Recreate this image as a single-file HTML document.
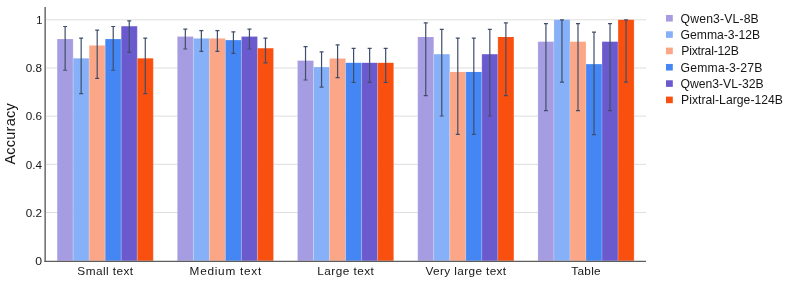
<!DOCTYPE html>
<html><head><meta charset="utf-8"><title>Accuracy chart</title>
<style>html,body{margin:0;padding:0;background:#fff;}body{width:793px;height:283px;overflow:hidden;font-family:"Liberation Sans",sans-serif;}</style>
</head><body>
<svg width="793" height="283" viewBox="0 0 793 283" style="display:block;will-change:transform;opacity:0.999">
<rect width="793" height="283" fill="#fff"/>
<line x1="46" x2="646" y1="212.52" y2="212.52" stroke="#dedede" stroke-width="1"/>
<line x1="46" x2="646" y1="164.34" y2="164.34" stroke="#dedede" stroke-width="1"/>
<line x1="46" x2="646" y1="116.16" y2="116.16" stroke="#dedede" stroke-width="1"/>
<line x1="46" x2="646" y1="67.98" y2="67.98" stroke="#dedede" stroke-width="1"/>
<line x1="46" x2="646" y1="19.80" y2="19.80" stroke="#dedede" stroke-width="1"/>
<rect x="57.12" y="39.07" width="16.03" height="221.68" fill="#A69CE1"/>
<line x1="57.12" x2="57.12" y1="39.07" y2="260.75" stroke="#fff" stroke-opacity="0.55" stroke-width="0.35"/>
<line x1="73.15" x2="73.15" y1="39.07" y2="260.75" stroke="#fff" stroke-opacity="0.55" stroke-width="0.35"/>
<rect x="73.15" y="58.34" width="16.03" height="202.41" fill="#86B0F8"/>
<line x1="73.15" x2="73.15" y1="58.34" y2="260.75" stroke="#fff" stroke-opacity="0.55" stroke-width="0.35"/>
<line x1="89.17" x2="89.17" y1="58.34" y2="260.75" stroke="#fff" stroke-opacity="0.55" stroke-width="0.35"/>
<rect x="89.17" y="45.50" width="16.03" height="215.25" fill="#FBA686"/>
<line x1="89.17" x2="89.17" y1="45.50" y2="260.75" stroke="#fff" stroke-opacity="0.55" stroke-width="0.35"/>
<line x1="105.20" x2="105.20" y1="45.50" y2="260.75" stroke="#fff" stroke-opacity="0.55" stroke-width="0.35"/>
<rect x="105.20" y="39.07" width="16.03" height="221.68" fill="#4487F4"/>
<line x1="105.20" x2="105.20" y1="39.07" y2="260.75" stroke="#fff" stroke-opacity="0.55" stroke-width="0.35"/>
<line x1="121.23" x2="121.23" y1="39.07" y2="260.75" stroke="#fff" stroke-opacity="0.55" stroke-width="0.35"/>
<rect x="121.23" y="26.23" width="16.03" height="234.52" fill="#6A5ACD"/>
<line x1="121.23" x2="121.23" y1="26.23" y2="260.75" stroke="#fff" stroke-opacity="0.55" stroke-width="0.35"/>
<line x1="137.25" x2="137.25" y1="26.23" y2="260.75" stroke="#fff" stroke-opacity="0.55" stroke-width="0.35"/>
<rect x="137.25" y="58.34" width="16.03" height="202.41" fill="#F9500F"/>
<line x1="137.25" x2="137.25" y1="58.34" y2="260.75" stroke="#fff" stroke-opacity="0.55" stroke-width="0.35"/>
<line x1="153.28" x2="153.28" y1="58.34" y2="260.75" stroke="#fff" stroke-opacity="0.55" stroke-width="0.35"/>
<rect x="177.32" y="36.59" width="16.03" height="224.16" fill="#A69CE1"/>
<line x1="177.32" x2="177.32" y1="36.59" y2="260.75" stroke="#fff" stroke-opacity="0.55" stroke-width="0.35"/>
<line x1="193.35" x2="193.35" y1="36.59" y2="260.75" stroke="#fff" stroke-opacity="0.55" stroke-width="0.35"/>
<rect x="193.35" y="38.47" width="16.03" height="222.28" fill="#86B0F8"/>
<line x1="193.35" x2="193.35" y1="38.47" y2="260.75" stroke="#fff" stroke-opacity="0.55" stroke-width="0.35"/>
<line x1="209.37" x2="209.37" y1="38.47" y2="260.75" stroke="#fff" stroke-opacity="0.55" stroke-width="0.35"/>
<rect x="209.37" y="38.47" width="16.03" height="222.28" fill="#FBA686"/>
<line x1="209.37" x2="209.37" y1="38.47" y2="260.75" stroke="#fff" stroke-opacity="0.55" stroke-width="0.35"/>
<line x1="225.40" x2="225.40" y1="38.47" y2="260.75" stroke="#fff" stroke-opacity="0.55" stroke-width="0.35"/>
<rect x="225.40" y="40.13" width="16.03" height="220.62" fill="#4487F4"/>
<line x1="225.40" x2="225.40" y1="40.13" y2="260.75" stroke="#fff" stroke-opacity="0.55" stroke-width="0.35"/>
<line x1="241.43" x2="241.43" y1="40.13" y2="260.75" stroke="#fff" stroke-opacity="0.55" stroke-width="0.35"/>
<rect x="241.43" y="36.59" width="16.03" height="224.16" fill="#6A5ACD"/>
<line x1="241.43" x2="241.43" y1="36.59" y2="260.75" stroke="#fff" stroke-opacity="0.55" stroke-width="0.35"/>
<line x1="257.46" x2="257.46" y1="36.59" y2="260.75" stroke="#fff" stroke-opacity="0.55" stroke-width="0.35"/>
<rect x="257.46" y="48.25" width="16.03" height="212.50" fill="#F9500F"/>
<line x1="257.46" x2="257.46" y1="48.25" y2="260.75" stroke="#fff" stroke-opacity="0.55" stroke-width="0.35"/>
<line x1="273.48" x2="273.48" y1="48.25" y2="260.75" stroke="#fff" stroke-opacity="0.55" stroke-width="0.35"/>
<rect x="297.52" y="60.67" width="16.03" height="200.08" fill="#A69CE1"/>
<line x1="297.52" x2="297.52" y1="60.67" y2="260.75" stroke="#fff" stroke-opacity="0.55" stroke-width="0.35"/>
<line x1="313.55" x2="313.55" y1="60.67" y2="260.75" stroke="#fff" stroke-opacity="0.55" stroke-width="0.35"/>
<rect x="313.55" y="67.12" width="16.03" height="193.63" fill="#86B0F8"/>
<line x1="313.55" x2="313.55" y1="67.12" y2="260.75" stroke="#fff" stroke-opacity="0.55" stroke-width="0.35"/>
<line x1="329.57" x2="329.57" y1="67.12" y2="260.75" stroke="#fff" stroke-opacity="0.55" stroke-width="0.35"/>
<rect x="329.57" y="58.52" width="16.03" height="202.23" fill="#FBA686"/>
<line x1="329.57" x2="329.57" y1="58.52" y2="260.75" stroke="#fff" stroke-opacity="0.55" stroke-width="0.35"/>
<line x1="345.60" x2="345.60" y1="58.52" y2="260.75" stroke="#fff" stroke-opacity="0.55" stroke-width="0.35"/>
<rect x="345.60" y="62.82" width="16.03" height="197.93" fill="#4487F4"/>
<line x1="345.60" x2="345.60" y1="62.82" y2="260.75" stroke="#fff" stroke-opacity="0.55" stroke-width="0.35"/>
<line x1="361.63" x2="361.63" y1="62.82" y2="260.75" stroke="#fff" stroke-opacity="0.55" stroke-width="0.35"/>
<rect x="361.63" y="62.82" width="16.03" height="197.93" fill="#6A5ACD"/>
<line x1="361.63" x2="361.63" y1="62.82" y2="260.75" stroke="#fff" stroke-opacity="0.55" stroke-width="0.35"/>
<line x1="377.65" x2="377.65" y1="62.82" y2="260.75" stroke="#fff" stroke-opacity="0.55" stroke-width="0.35"/>
<rect x="377.65" y="62.82" width="16.03" height="197.93" fill="#F9500F"/>
<line x1="377.65" x2="377.65" y1="62.82" y2="260.75" stroke="#fff" stroke-opacity="0.55" stroke-width="0.35"/>
<line x1="393.68" x2="393.68" y1="62.82" y2="260.75" stroke="#fff" stroke-opacity="0.55" stroke-width="0.35"/>
<rect x="417.72" y="37.01" width="16.03" height="223.74" fill="#A69CE1"/>
<line x1="417.72" x2="417.72" y1="37.01" y2="260.75" stroke="#fff" stroke-opacity="0.55" stroke-width="0.35"/>
<line x1="433.75" x2="433.75" y1="37.01" y2="260.75" stroke="#fff" stroke-opacity="0.55" stroke-width="0.35"/>
<rect x="433.75" y="54.21" width="16.03" height="206.54" fill="#86B0F8"/>
<line x1="433.75" x2="433.75" y1="54.21" y2="260.75" stroke="#fff" stroke-opacity="0.55" stroke-width="0.35"/>
<line x1="449.77" x2="449.77" y1="54.21" y2="260.75" stroke="#fff" stroke-opacity="0.55" stroke-width="0.35"/>
<rect x="449.77" y="71.95" width="16.03" height="188.80" fill="#FBA686"/>
<line x1="449.77" x2="449.77" y1="71.95" y2="260.75" stroke="#fff" stroke-opacity="0.55" stroke-width="0.35"/>
<line x1="465.80" x2="465.80" y1="71.95" y2="260.75" stroke="#fff" stroke-opacity="0.55" stroke-width="0.35"/>
<rect x="465.80" y="71.95" width="16.03" height="188.80" fill="#4487F4"/>
<line x1="465.80" x2="465.80" y1="71.95" y2="260.75" stroke="#fff" stroke-opacity="0.55" stroke-width="0.35"/>
<line x1="481.83" x2="481.83" y1="71.95" y2="260.75" stroke="#fff" stroke-opacity="0.55" stroke-width="0.35"/>
<rect x="481.83" y="54.21" width="16.03" height="206.54" fill="#6A5ACD"/>
<line x1="481.83" x2="481.83" y1="54.21" y2="260.75" stroke="#fff" stroke-opacity="0.55" stroke-width="0.35"/>
<line x1="497.86" x2="497.86" y1="54.21" y2="260.75" stroke="#fff" stroke-opacity="0.55" stroke-width="0.35"/>
<rect x="497.86" y="37.01" width="16.03" height="223.74" fill="#F9500F"/>
<line x1="497.86" x2="497.86" y1="37.01" y2="260.75" stroke="#fff" stroke-opacity="0.55" stroke-width="0.35"/>
<line x1="513.88" x2="513.88" y1="37.01" y2="260.75" stroke="#fff" stroke-opacity="0.55" stroke-width="0.35"/>
<rect x="537.92" y="41.70" width="16.03" height="219.05" fill="#A69CE1"/>
<line x1="537.92" x2="537.92" y1="41.70" y2="260.75" stroke="#fff" stroke-opacity="0.55" stroke-width="0.35"/>
<line x1="553.95" x2="553.95" y1="41.70" y2="260.75" stroke="#fff" stroke-opacity="0.55" stroke-width="0.35"/>
<rect x="553.95" y="19.80" width="16.03" height="240.95" fill="#86B0F8"/>
<line x1="553.95" x2="553.95" y1="19.80" y2="260.75" stroke="#fff" stroke-opacity="0.55" stroke-width="0.35"/>
<line x1="569.97" x2="569.97" y1="19.80" y2="260.75" stroke="#fff" stroke-opacity="0.55" stroke-width="0.35"/>
<rect x="569.97" y="41.70" width="16.03" height="219.05" fill="#FBA686"/>
<line x1="569.97" x2="569.97" y1="41.70" y2="260.75" stroke="#fff" stroke-opacity="0.55" stroke-width="0.35"/>
<line x1="586.00" x2="586.00" y1="41.70" y2="260.75" stroke="#fff" stroke-opacity="0.55" stroke-width="0.35"/>
<rect x="586.00" y="64.13" width="16.03" height="196.62" fill="#4487F4"/>
<line x1="586.00" x2="586.00" y1="64.13" y2="260.75" stroke="#fff" stroke-opacity="0.55" stroke-width="0.35"/>
<line x1="602.03" x2="602.03" y1="64.13" y2="260.75" stroke="#fff" stroke-opacity="0.55" stroke-width="0.35"/>
<rect x="602.03" y="41.70" width="16.03" height="219.05" fill="#6A5ACD"/>
<line x1="602.03" x2="602.03" y1="41.70" y2="260.75" stroke="#fff" stroke-opacity="0.55" stroke-width="0.35"/>
<line x1="618.06" x2="618.06" y1="41.70" y2="260.75" stroke="#fff" stroke-opacity="0.55" stroke-width="0.35"/>
<rect x="618.05" y="19.80" width="16.03" height="240.95" fill="#F9500F"/>
<line x1="618.05" x2="618.05" y1="19.80" y2="260.75" stroke="#fff" stroke-opacity="0.55" stroke-width="0.35"/>
<line x1="634.08" x2="634.08" y1="19.80" y2="260.75" stroke="#fff" stroke-opacity="0.55" stroke-width="0.35"/>
<path d="M63.13,26.49H67.13M65.13,26.49V70.23M63.13,70.23H67.13" stroke="#404e6b" stroke-width="1.2" fill="none"/>
<path d="M79.16,38.07H83.16M81.16,38.07V93.66M79.16,93.66H83.16" stroke="#404e6b" stroke-width="1.2" fill="none"/>
<path d="M95.19,30.05H99.19M97.19,30.05V78.36M95.19,78.36H99.19" stroke="#404e6b" stroke-width="1.2" fill="none"/>
<path d="M111.21,26.49H115.21M113.21,26.49V70.23M111.21,70.23H115.21" stroke="#404e6b" stroke-width="1.2" fill="none"/>
<path d="M127.24,20.95H131.24M129.24,20.95V52.45M127.24,52.45H131.24" stroke="#404e6b" stroke-width="1.2" fill="none"/>
<path d="M143.27,38.07H147.27M145.27,38.07V93.66M143.27,93.66H147.27" stroke="#404e6b" stroke-width="1.2" fill="none"/>
<path d="M183.33,29.22H187.33M185.33,29.22V49.01M183.33,49.01H187.33" stroke="#404e6b" stroke-width="1.2" fill="none"/>
<path d="M199.36,30.60H203.36M201.36,30.60V51.30M199.36,51.30H203.36" stroke="#404e6b" stroke-width="1.2" fill="none"/>
<path d="M215.39,30.60H219.39M217.39,30.60V51.30M215.39,51.30H219.39" stroke="#404e6b" stroke-width="1.2" fill="none"/>
<path d="M231.41,31.84H235.41M233.41,31.84V53.30M231.41,53.30H235.41" stroke="#404e6b" stroke-width="1.2" fill="none"/>
<path d="M247.44,29.22H251.44M249.44,29.22V49.01M247.44,49.01H251.44" stroke="#404e6b" stroke-width="1.2" fill="none"/>
<path d="M263.47,38.16H267.47M265.47,38.16V62.82M263.47,62.82H267.47" stroke="#404e6b" stroke-width="1.2" fill="none"/>
<path d="M303.53,46.63H307.53M305.53,46.63V79.98M303.53,79.98H307.53" stroke="#404e6b" stroke-width="1.2" fill="none"/>
<path d="M319.56,51.95H323.56M321.56,51.95V87.14M319.56,87.14H323.56" stroke="#404e6b" stroke-width="1.2" fill="none"/>
<path d="M335.59,44.89H339.59M337.59,44.89V77.56M335.59,77.56H339.59" stroke="#404e6b" stroke-width="1.2" fill="none"/>
<path d="M351.61,48.39H355.61M353.61,48.39V82.38M351.61,82.38H355.61" stroke="#404e6b" stroke-width="1.2" fill="none"/>
<path d="M367.64,48.39H371.64M369.64,48.39V82.38M367.64,82.38H371.64" stroke="#404e6b" stroke-width="1.2" fill="none"/>
<path d="M383.67,48.39H387.67M385.67,48.39V82.38M383.67,82.38H387.67" stroke="#404e6b" stroke-width="1.2" fill="none"/>
<path d="M423.73,22.86H427.73M425.73,22.86V95.61M423.73,95.61H427.73" stroke="#404e6b" stroke-width="1.2" fill="none"/>
<path d="M439.76,29.46H443.76M441.76,29.46V116.02M439.76,116.02H443.76" stroke="#404e6b" stroke-width="1.2" fill="none"/>
<path d="M455.79,38.04H459.79M457.79,38.04V134.44M455.79,134.44H459.79" stroke="#404e6b" stroke-width="1.2" fill="none"/>
<path d="M471.81,38.04H475.81M473.81,38.04V134.44M471.81,134.44H475.81" stroke="#404e6b" stroke-width="1.2" fill="none"/>
<path d="M487.84,29.46H491.84M489.84,29.46V116.02M487.84,116.02H491.84" stroke="#404e6b" stroke-width="1.2" fill="none"/>
<path d="M503.87,22.86H507.87M505.87,22.86V95.61M503.87,95.61H507.87" stroke="#404e6b" stroke-width="1.2" fill="none"/>
<path d="M543.93,23.71H547.93M545.93,23.71V110.71M543.93,110.71H547.93" stroke="#404e6b" stroke-width="1.2" fill="none"/>
<path d="M559.96,19.80H563.96M561.96,19.80V82.15M559.96,82.15H563.96" stroke="#404e6b" stroke-width="1.2" fill="none"/>
<path d="M575.99,23.71H579.99M577.99,23.71V110.71M575.99,110.71H579.99" stroke="#404e6b" stroke-width="1.2" fill="none"/>
<path d="M592.01,32.17H596.01M594.01,32.17V134.71M592.01,134.71H596.01" stroke="#404e6b" stroke-width="1.2" fill="none"/>
<path d="M608.04,23.71H612.04M610.04,23.71V110.71M608.04,110.71H612.04" stroke="#404e6b" stroke-width="1.2" fill="none"/>
<path d="M624.07,19.80H628.07M626.07,19.80V82.15M624.07,82.15H628.07" stroke="#404e6b" stroke-width="1.2" fill="none"/>
<rect x="44.4" y="7" width="1.5" height="255" fill="#6a6a6a"/>
<rect x="44.4" y="260.75" width="601.6" height="1.25" fill="#5e5e5e"/>
<text x="35.20" y="265.00" font-family="Liberation Sans, sans-serif" font-size="11.3" fill="#161616" textLength="6.8" lengthAdjust="spacingAndGlyphs">0</text>
<text x="25.70" y="216.82" font-family="Liberation Sans, sans-serif" font-size="11.3" fill="#161616" textLength="16.3" lengthAdjust="spacingAndGlyphs">0.2</text>
<text x="25.70" y="168.64" font-family="Liberation Sans, sans-serif" font-size="11.3" fill="#161616" textLength="16.3" lengthAdjust="spacingAndGlyphs">0.4</text>
<text x="25.70" y="120.46" font-family="Liberation Sans, sans-serif" font-size="11.3" fill="#161616" textLength="16.3" lengthAdjust="spacingAndGlyphs">0.6</text>
<text x="25.70" y="72.28" font-family="Liberation Sans, sans-serif" font-size="11.3" fill="#161616" textLength="16.3" lengthAdjust="spacingAndGlyphs">0.8</text>
<text x="36.30" y="24.10" font-family="Liberation Sans, sans-serif" font-size="11.3" fill="#161616" textLength="6.2" lengthAdjust="spacingAndGlyphs">1</text>
<text x="77.35" y="275.1" font-family="Liberation Sans, sans-serif" font-size="11.8" fill="#161616" textLength="55.7" lengthAdjust="spacing">Small text</text>
<text x="189.60" y="275.1" font-family="Liberation Sans, sans-serif" font-size="11.8" fill="#161616" textLength="71.6" lengthAdjust="spacing">Medium text</text>
<text x="317.35" y="275.1" font-family="Liberation Sans, sans-serif" font-size="11.8" fill="#161616" textLength="56.5" lengthAdjust="spacing">Large text</text>
<text x="425.45" y="275.1" font-family="Liberation Sans, sans-serif" font-size="11.8" fill="#161616" textLength="80.7" lengthAdjust="spacing">Very large text</text>
<text x="571.35" y="275.1" font-family="Liberation Sans, sans-serif" font-size="11.8" fill="#161616" textLength="29.3" lengthAdjust="spacing">Table</text>
<text transform="translate(14.8,164.6) rotate(-90)" font-family="Liberation Sans, sans-serif" font-size="14.5" fill="#161616" textLength="61.3" lengthAdjust="spacing">Accuracy</text>
<rect x="666" y="14.95" width="6.8" height="6.6" fill="#A69CE1"/>
<text x="680.6" y="22.65" font-family="Liberation Sans, sans-serif" font-size="12.2" fill="#161616" textLength="78.1" lengthAdjust="spacing">Qwen3-VL-8B</text>
<rect x="666" y="31.28" width="6.8" height="6.6" fill="#86B0F8"/>
<text x="680.6" y="38.98" font-family="Liberation Sans, sans-serif" font-size="12.2" fill="#161616" textLength="79.6" lengthAdjust="spacing">Gemma-3-12B</text>
<rect x="666" y="47.61" width="6.8" height="6.6" fill="#FBA686"/>
<text x="681.3" y="55.31" font-family="Liberation Sans, sans-serif" font-size="12.2" fill="#161616" textLength="57.5" lengthAdjust="spacing">Pixtral-12B</text>
<rect x="666" y="63.94" width="6.8" height="6.6" fill="#4487F4"/>
<text x="680.6" y="71.64" font-family="Liberation Sans, sans-serif" font-size="12.2" fill="#161616" textLength="81.8" lengthAdjust="spacing">Gemma-3-27B</text>
<rect x="666" y="80.27" width="6.8" height="6.6" fill="#6A5ACD"/>
<text x="680.6" y="87.97" font-family="Liberation Sans, sans-serif" font-size="12.2" fill="#161616" textLength="83.0" lengthAdjust="spacing">Qwen3-VL-32B</text>
<rect x="666" y="96.60" width="6.8" height="6.6" fill="#F9500F"/>
<text x="681.0" y="104.30" font-family="Liberation Sans, sans-serif" font-size="12.2" fill="#161616" textLength="102.0" lengthAdjust="spacing">Pixtral-Large-124B</text>
</svg>
</body></html>
